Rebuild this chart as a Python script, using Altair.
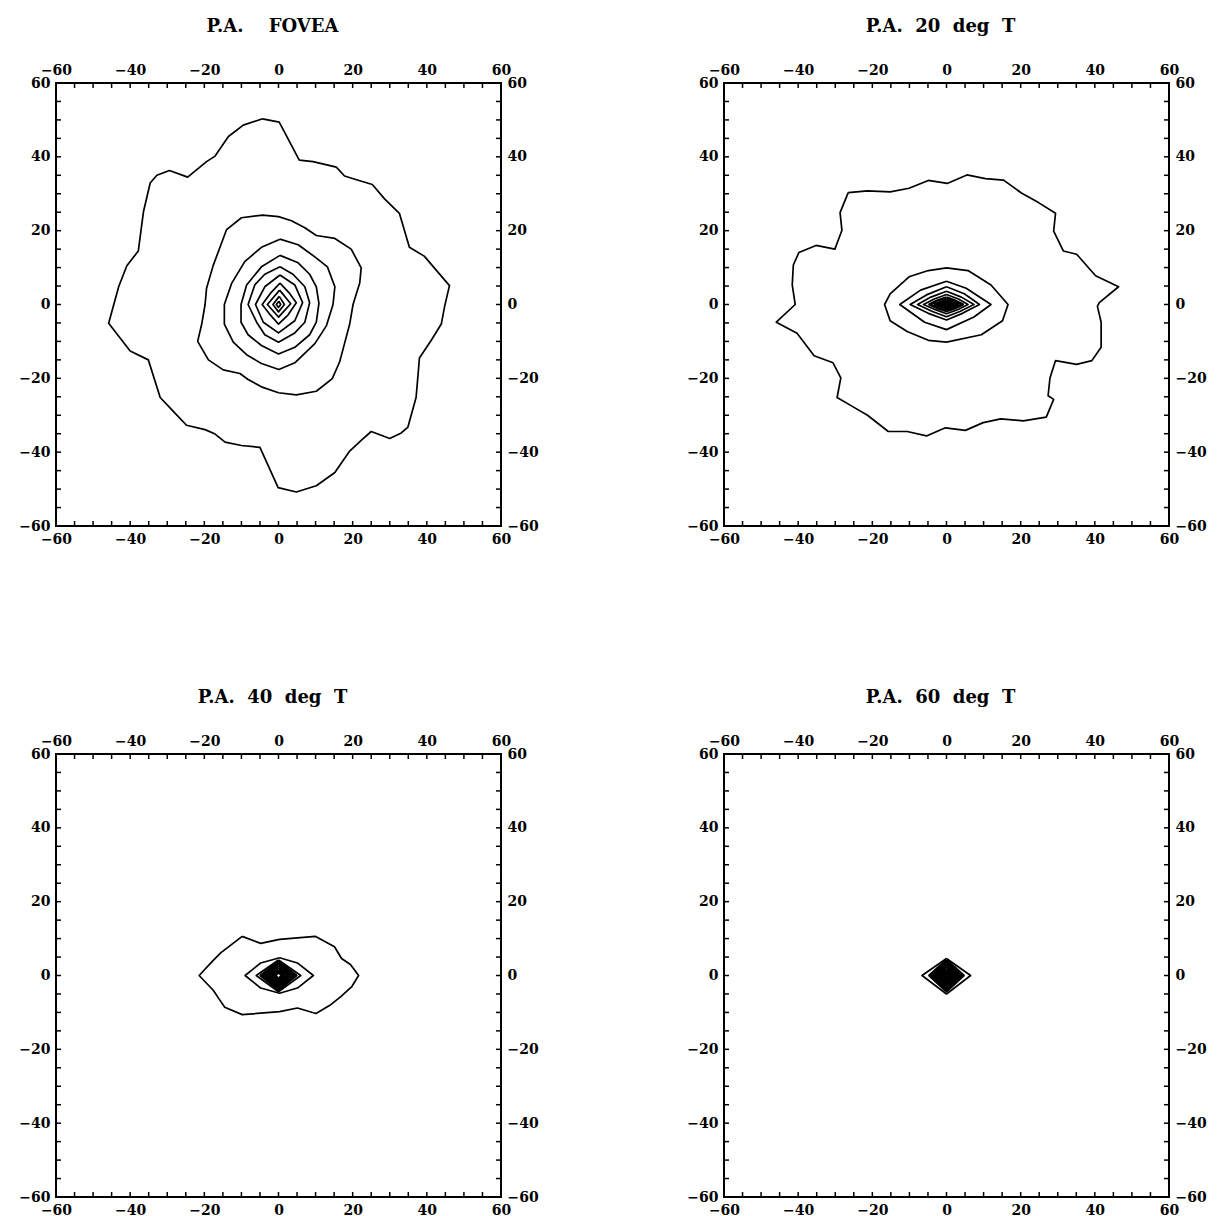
import altair as alt
import pandas as pd

FONT = "DejaVu Serif"
MAJOR_TICKS = [-60, -40, -20, 0, 20, 40, 60]
MINOR_TICKS = [-55, -50, -45, -40, -35, -30, -25, -20, -15, -10, -5, 0,
               5, 10, 15, 20, 25, 30, 35, 40, 45, 50, 55]

TITLES = [
    "P.A.\u00a0\u00a0\u00a0\u00a0FOVEA",
    "P.A.\u00a0\u00a020\u00a0\u00a0deg\u00a0\u00a0T",
    "P.A.\u00a0\u00a040\u00a0\u00a0deg\u00a0\u00a0T",
    "P.A.\u00a0\u00a060\u00a0\u00a0deg\u00a0\u00a0T",
]

# ---------------- Panel 1: fovea ----------------
P1_C1 = [(-4.3, 50.3), (0.2, 49.4), (5.6, 39.1), (9.3, 38.7), (15.6, 37.2), (17.8, 34.8),
         (21.7, 33.6), (25.3, 32.5), (28.6, 28.6), (32.6, 24.7), (35.3, 15.5), (39.3, 13.1),
         (46.1, 5.1), (44.8, -0.5), (43.9, -5.3), (41.2, -9.7), (38.0, -14.5), (37.6, -19.4),
         (37.1, -25.2), (34.9, -33.2), (33.1, -34.8), (30.0, -36.3), (25.0, -34.4), (22.3, -36.8),
         (19.2, -39.7), (15.2, -45.5), (10.2, -49.1), (4.8, -50.8), (-0.1, -49.6), (-5.0, -38.7),
         (-10.0, -38.2), (-14.4, -37.3), (-17.1, -35.1), (-19.8, -33.9), (-24.8, -32.7),
         (-28.3, -29.0), (-31.9, -25.2), (-35.1, -15.0), (-40.0, -12.6), (-45.8, -5.1),
         (-43.1, 4.8), (-40.9, 10.5), (-37.8, 14.5), (-36.4, 25.2), (-34.6, 32.9), (-32.8, 35.0),
         (-29.4, 36.3), (-24.5, 34.5), (-19.4, 38.7), (-17.1, 40.2), (-13.5, 45.5), (-9.5, 48.6)]
P1_C2 = [(-10.0, 23.5), (-4.3, 24.2), (0.0, 23.8), (3.5, 22.7), (7.1, 20.8), (10.2, 18.7),
         (15.2, 17.9), (19.6, 15.0), (22.3, 9.9), (21.9, 5.8), (20.1, 0.0), (19.2, -5.3),
         (17.8, -10.6), (16.5, -15.5), (14.5, -20.1), (10.2, -23.5), (4.8, -24.5), (0.0, -23.9),
         (-4.6, -22.3), (-8.2, -20.3), (-10.4, -18.7), (-14.9, -17.7), (-18.9, -15.0),
         (-21.8, -10.0), (-20.7, -5.3), (-19.8, 0.0), (-19.4, 4.4), (-17.6, 10.6), (-14.0, 20.3)]
P1_C3 = [(0.4, 17.7), (5.3, 16.2), (9.8, 12.9), (13.2, 10.2), (15.2, 4.8), (14.7, 0.0),
         (12.9, -5.8), (9.8, -10.6), (4.4, -15.8), (0.1, -17.6), (-4.6, -16.0), (-8.6, -13.6),
         (-12.2, -10.2), (-14.6, -5.3), (-14.6, 0.0), (-12.6, 5.8), (-9.1, 11.6), (-4.6, 15.5)]
P1_C4 = [(0.4, 13.3), (5.3, 11.3), (8.4, 8.2), (10.2, 4.8), (10.9, 0.3), (10.2, -4.8),
         (8.4, -8.2), (4.4, -11.6), (0.0, -13.4), (-4.6, -11.1), (-8.2, -8.2), (-10.1, -4.8),
         (-10.1, 0.0), (-8.6, 5.3), (-4.6, 10.2)]
P1_C5 = [(0.4, 10.2), (3.9, 8.2), (7.1, 4.8), (8.4, 0.5), (7.1, -4.8), (4.4, -7.7),
         (0.0, -10.2), (-3.7, -8.2), (-5.9, -4.8), (-8.2, 0.0), (-6.4, 5.3), (-3.7, 8.2)]
P1_C6 = [(0.4, 8.0), (4.4, 5.3), (6.5, 0.5), (4.4, -4.4), (0.0, -7.7), (-4.1, -4.8),
         (-6.2, 0.0), (-3.7, 4.8)]
P1_C7 = [(0.4, 5.8), (3.0, 3.0), (4.8, 0.5), (2.6, -2.8), (0.0, -5.3), (-2.4, -2.6),
         (-4.4, 0.0), (-2.2, 3.0)]
P1_C8 = [(0.3, 3.9), (3.3, 0.2), (0.0, -3.4), (-3.0, 0.0)]
P1_C9 = [(0.2, 2.2), (1.6, 0.0), (0.0, -2.0), (-1.5, 0.0)]
P1_C10 = [(0.1, 0.9), (0.6, 0.0), (0.0, -0.8), (-0.6, 0.0)]

# ---------------- Panel 2: 20 deg ----------------
P2_C1 = [(-26.5, 30.3), (-21.3, 30.8), (-15.2, 30.5), (-10.1, 31.5), (-4.9, 33.6), (0.2, 32.8),
         (5.5, 35.1), (10.5, 34.1), (15.4, 33.7), (20.2, 30.2), (24.8, 27.6), (29.4, 24.7),
         (28.9, 19.9), (31.5, 14.5), (35.1, 13.6), (40.2, 7.8), (46.4, 4.8), (41.2, 0.5),
         (40.7, -0.5), (41.7, -4.8), (41.7, -11.6), (39.2, -15.2), (35.1, -16.2), (29.4, -15.2),
         (27.9, -19.9), (27.4, -24.7), (28.9, -25.7), (26.9, -30.5), (20.7, -31.5), (14.6, -31.0),
         (9.9, -32.0), (5.1, -34.1), (-0.3, -33.4), (-5.4, -35.6), (-10.6, -34.4), (-15.7, -34.4),
         (-21.3, -30.0), (-25.4, -27.6), (-29.5, -25.2), (-28.5, -19.9), (-30.6, -15.8),
         (-35.7, -13.9), (-40.3, -7.8), (-45.9, -4.8), (-40.8, 0.0), (-41.6, 5.3), (-41.3, 10.7),
         (-39.8, 14.1), (-35.2, 16.0), (-30.1, 15.0), (-28.2, 20.1), (-28.7, 24.9)]
P2_C2 = [(0.0, 9.9), (5.8, 9.2), (12.0, 5.3), (16.6, 0.0), (15.1, -4.4), (9.4, -8.2),
         (0.0, -10.2), (-4.9, -9.7), (-10.6, -7.3), (-15.2, -4.4), (-16.7, 0.0), (-15.2, 2.9),
         (-10.1, 7.5), (-4.9, 9.2)]
P2_C3 = [(0.0, 6.3), (5.3, 4.4), (12.0, 0.0), (7.4, -3.4), (0.0, -6.8), (-5.9, -4.8),
         (-12.6, 0.0), (-7.0, 3.9)]
P2_C4 = [(0.0, 4.8), (4.8, 2.9), (8.9, 0.0), (4.3, -2.4), (0.0, -4.2), (-4.9, -2.4),
         (-9.8, 0.0), (-5.4, 2.6)]
P2_C5 = [(0.0, 3.6), (4.0, 2.0), (7.4, 0.0), (3.6, -1.9), (0.0, -3.3), (-3.8, -1.9),
         (-7.8, 0.0), (-4.2, 2.0)]
P2_C6 = [(0.0, 2.7), (3.2, 1.5), (5.8, 0.0), (3.0, -1.4), (0.0, -2.5), (-3.0, -1.4),
         (-6.2, 0.0), (-3.3, 1.5)]
P2_C7 = [(0.0, 1.9), (2.4, 1.0), (4.4, 0.0), (2.2, -1.0), (0.0, -1.8), (-2.3, -1.0),
         (-4.6, 0.0), (-2.4, 1.1)]
P2_C8 = [(0.0, 1.3), (3.1, 0.0), (0.0, -1.2), (-3.2, 0.0)]
P2_C9 = [(0.0, 0.8), (2.0, 0.0), (0.0, -0.8), (-2.1, 0.0)]
P2_C10 = [(0.0, 0.4), (1.0, 0.0), (0.0, -0.4), (-1.0, 0.0)]

# ---------------- Panel 3: 40 deg ----------------
P3_C1 = [(-9.8, 10.6), (-4.8, 8.7), (0.3, 9.8), (9.9, 10.6), (15.1, 7.8), (17.0, 4.6),
         (19.4, 3.0), (21.6, 0.0), (19.7, -3.1), (16.8, -5.7), (14.1, -7.9), (10.1, -10.3),
         (5.1, -8.8), (0.3, -9.8), (-9.8, -10.6), (-14.5, -8.6), (-16.0, -6.4), (-17.6, -4.0),
         (-21.4, 0.0), (-17.6, 4.1), (-15.5, 6.2)]
P3_C2 = [(0.3, 4.8), (5.1, 3.4), (9.4, 0.0), (5.1, -3.4), (0.3, -4.8), (-4.8, -3.4),
         (-9.0, 0.0), (-4.8, 3.4)]
P3_C3 = [(0.0, 4.2), (6.0, 0.0), (0.0, -4.4), (-6.0, 0.0)]
P3_C4 = [(0.0, 3.9), (4.8, 0.0), (0.0, -3.9), (-4.8, 0.0)]
P3_C5 = [(0.0, 3.3), (4.0, 0.0), (0.0, -3.3), (-4.0, 0.0)]
P3_C6 = [(0.0, 2.7), (3.2, 0.0), (0.0, -2.7), (-3.2, 0.0)]
P3_C7 = [(0.0, 2.1), (2.4, 0.0), (0.0, -2.1), (-2.4, 0.0)]
P3_C8 = [(0.0, 1.5), (1.6, 0.0), (0.0, -1.5), (-1.6, 0.0)]
P3_C9 = [(0.0, 0.9), (0.9, 0.0), (0.0, -0.9), (-0.9, 0.0)]

# ---------------- Panel 4: 60 deg ----------------
P4_C1 = [(0.0, 4.6), (6.5, 0.0), (0.0, -5.0), (-6.6, 0.0)]
P4_C2 = [(0.0, 4.2), (4.6, 0.0), (0.0, -4.3), (-4.6, 0.0)]
P4_C3 = [(0.0, 3.6), (3.9, 0.0), (0.0, -3.7), (-3.9, 0.0)]
P4_C4 = [(0.0, 3.0), (3.2, 0.0), (0.0, -3.1), (-3.2, 0.0)]
P4_C5 = [(0.0, 2.4), (2.5, 0.0), (0.0, -2.5), (-2.5, 0.0)]
P4_C6 = [(0.0, 1.8), (1.8, 0.0), (0.0, -1.9), (-1.8, 0.0)]
P4_C7 = [(0.0, 1.2), (1.2, 0.0), (0.0, -1.2), (-1.2, 0.0)]
P4_C8 = [(0.0, 0.6), (0.6, 0.0), (0.0, -0.6), (-0.6, 0.0)]

# (open contours, densely packed core contours) for each panel
PANELS = [
    ([P1_C1, P1_C2, P1_C3, P1_C4, P1_C5, P1_C6, P1_C7, P1_C8, P1_C9, P1_C10], []),
    ([P2_C1, P2_C2, P2_C3, P2_C4, P2_C5, P2_C6], [P2_C7, P2_C8, P2_C9, P2_C10]),
    ([P3_C1, P3_C2, P3_C3], [P3_C4, P3_C5, P3_C6, P3_C7, P3_C8, P3_C9]),
    ([P4_C1], [P4_C2, P4_C3, P4_C4, P4_C5, P4_C6, P4_C7, P4_C8]),
]

W, H = 445, 443
TICK_LEN = 5


def contour_frame(contours):
    rows = []
    for c, pts in enumerate(contours):
        closed = list(pts) + [pts[0]]
        for i, (x, y) in enumerate(closed):
            rows.append({"c": c, "i": i, "x": x, "y": y})
    return pd.DataFrame(rows, columns=["c", "i", "x", "y"])


def axis(orient):
    return alt.Axis(
        orient=orient, values=MAJOR_TICKS, ticks=False, domain=False, grid=False,
        title=None, labelFont=FONT, labelFontWeight="bold", labelFontSize=14,
        labelColor="black", labelFlush=False, labelOverlap=False, labelPadding=6,
        format="d",
    )


def panel(contours, core, title):
    xs = alt.Scale(domain=[-60, 60], nice=False, zero=False)
    ys = alt.Scale(domain=[-60, 60], nice=False, zero=False)
    tdf = pd.DataFrame({"t": MINOR_TICKS})
    lines = alt.Chart(contour_frame(contours)).mark_line(
        color="black", strokeWidth=1.7, strokeJoin="round"
    ).encode(
        x=alt.X("x:Q", scale=xs, axis=axis("bottom")),
        y=alt.Y("y:Q", scale=ys, axis=axis("left")),
        detail="c:N",
        order="i:Q",
    )
    layers = [lines]
    if core:
        layers.append(alt.Chart(contour_frame(core)).mark_line(
            color="black", strokeWidth=2.6, strokeJoin="round"
        ).encode(
            x=alt.X("x:Q", scale=xs, axis=None),
            y=alt.Y("y:Q", scale=ys, axis=None),
            detail="c:N",
            order="i:Q",
        ))
    top = alt.Chart(tdf).mark_rule(color="black", strokeWidth=1.5).encode(
        x=alt.X("t:Q", scale=xs, axis=axis("top")),
        y=alt.value(0), y2=alt.value(TICK_LEN),
    )
    bottom = alt.Chart(tdf).mark_rule(color="black", strokeWidth=1.5).encode(
        x=alt.X("t:Q", scale=xs, axis=None),
        y=alt.value(H), y2=alt.value(H - TICK_LEN),
    )
    left = alt.Chart(tdf).mark_rule(color="black", strokeWidth=1.5).encode(
        y=alt.Y("t:Q", scale=ys, axis=None),
        x=alt.value(0), x2=alt.value(TICK_LEN),
    )
    right = alt.Chart(tdf).mark_rule(color="black", strokeWidth=1.5).encode(
        y=alt.Y("t:Q", scale=ys, axis=axis("right")),
        x=alt.value(W), x2=alt.value(W - TICK_LEN),
    )
    layers += [top, bottom, left, right]
    return alt.layer(*layers).resolve_axis(
        x="independent", y="independent"
    ).properties(
        width=W, height=H,
        title=alt.TitleParams(title, font=FONT, fontSize=18, fontWeight="bold",
                              color="black", offset=27, dx=-6),
    )


p = [panel(PANELS[k][0], PANELS[k][1], TITLES[k]) for k in range(4)]
chart = alt.concat(
    *p, columns=2, spacing={"row": 228, "column": 223}, bounds="flush"
).properties(
    padding={"left": 17, "top": 17, "right": 5, "bottom": 5},
    background="white",
).configure_view(stroke="black", strokeWidth=2)

chart.save("out.html", embed_options={"renderer": "svg", "actions": False})
